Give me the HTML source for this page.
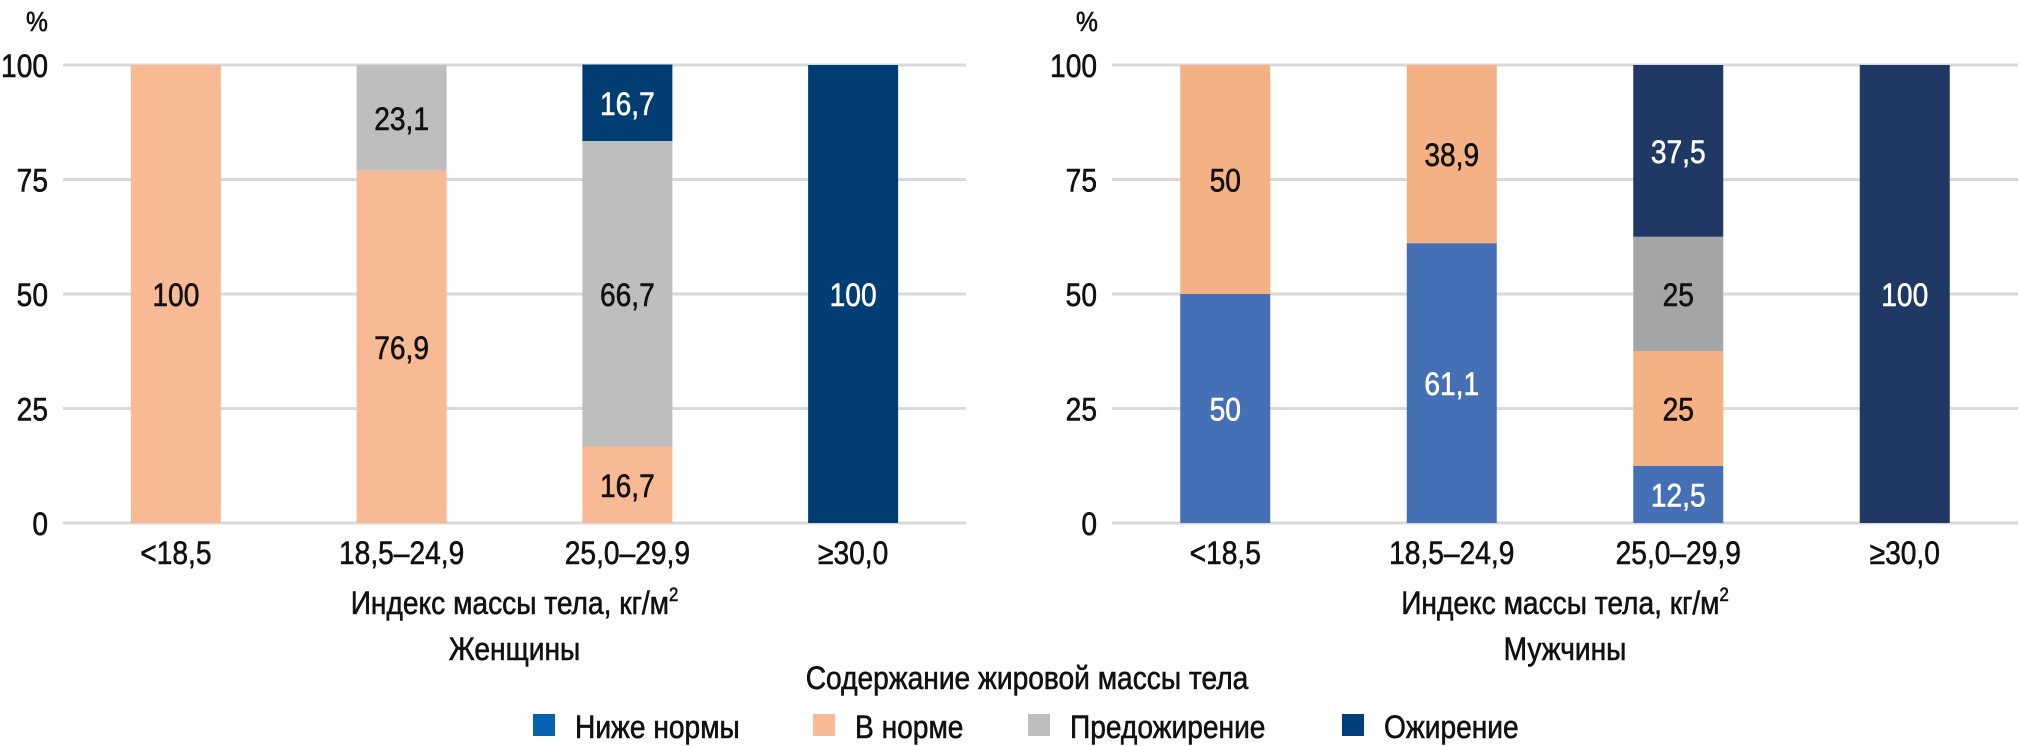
<!DOCTYPE html>
<html><head><meta charset="utf-8"><style>
html,body{margin:0;padding:0;background:#fff;}
svg{display:block;font-family:"Liberation Sans","DejaVu Sans",sans-serif;}
</style></head><body>
<svg id="c" width="2020" height="746" viewBox="0 0 2020 746" xmlns="http://www.w3.org/2000/svg"></svg>
<script>
const categories = ["<18,5","18,5–24,9","25,0–29,9","≥30,0"];
const yTicks = [0,25,50,75,100];
const womenBelow = [0,0,0,0];
const womenNormal = [100,76.9,16.7,0];
const womenPre = [0,23.1,66.7,0];
const womenObese = [0,0,16.7,100];
const menBelow = [50,61.1,12.5,0];
const menNormal = [50,38.9,25,0];
const menPre = [0,0,25,0];
const menObese = [0,0,37.5,100];
const legendNames = ["Ниже нормы","В норме","Предожирение","Ожирение"];

const NS="http://www.w3.org/2000/svg";
const svg=document.getElementById('c');
const SX=0.88;
function mk(tag,attrs,parent){const e=document.createElementNS(NS,tag);for(const k in attrs)e.setAttribute(k,attrs[k]);(parent||svg).appendChild(e);return e;}
function txt(x,y,size,anchor,fill,parent){
  return mk('text',{x:0,y:0,transform:'translate('+x+','+y+') scale('+SX+',1)','font-size':size,'text-anchor':anchor,fill:fill,stroke:fill,'stroke-width':0.6},parent);
}
function fmt(v){return String(v).replace('.',',');}
const y0=523,y1=65;
function yScale(v){return y0-(v/100)*(y0-y1);}

function drawPanel(p){
  const g=mk('g',{});
  
  
  const step=(p.x1-p.x0)/categories.length;
  function xc(i){return p.x0+step*(i+0.5);}
  yTicks.forEach(t=>{
    const l=mk('line',{x1:p.x0,x2:p.x1,y1:yScale(t),y2:yScale(t),stroke:'#d9d9d9','stroke-width':3},g);
    
    
    const tx=txt(p.labelX,yScale(t)+12,32,'end','#111',g);
    tx.textContent=t;
    
    
  });
  const pc=txt(p.pctX,31,28,'start','#111',g);
  pc.textContent='%';
  
  
  const bw=90;
  categories.forEach((c,i)=>{
    let base=0;
    p.series.forEach((s,si)=>{
      const v=s.vals[i];
      if(v<=0)return;
      const top=base+v;
      const r=mk('rect',{x:xc(i)-bw/2,y:yScale(top),width:bw,height:yScale(base)-yScale(top),fill:s.color},g);
      
      
      const t=txt(xc(i),(yScale(top)+yScale(base))/2+12,32,'middle',s.text,g);
      t.textContent=fmt(v);
      
      
      base=top;
    });
    const xl=txt(xc(i),564,32,'middle','#111',g);
    xl.textContent=c;
    
    
  });
  const cx=(p.x0+p.x1)/2;
  const at=txt(cx,614,32,'middle','#111',g);
  at.innerHTML='Индекс массы тела, кг/м<tspan dy="-13" font-size="19">2</tspan>';
  
  
  const st=txt(cx,660,32,'middle','#111',g);
  st.textContent=p.title;
  
  
}
drawPanel({name:'women-panel',x0:63,x1:966,labelX:48,pctX:26,title:'Женщины',series:[
  {vals:womenBelow,color:'#0563af',text:'#fff'},
  {vals:womenNormal,color:'#f8b995',text:'#111'},
  {vals:womenPre,color:'#bebebe',text:'#111'},
  {vals:womenObese,color:'#003d73',text:'#fff'}]});
drawPanel({name:'men-panel',x0:1112,x1:2018,labelX:1097,pctX:1076,title:'Мужчины',series:[
  {vals:menBelow,color:'#4570b5',text:'#fff'},
  {vals:menNormal,color:'#f4b183',text:'#111'},
  {vals:menPre,color:'#a5a5a5',text:'#111'},
  {vals:menObese,color:'#203864',text:'#fff'}]});

const lg=mk('g',{});


const lt=txt(1027,689,32,'middle','#111',lg);
lt.textContent='Содержание жировой массы тела';


const lcolors=['#0563af','#f8b995','#bebebe','#003f7b'];
const lmx=[533,813,1028,1342];
legendNames.forEach((n,i)=>{
  const r=mk('rect',{x:lmx[i],y:714,width:22,height:22,fill:lcolors[i]},lg);
  
  
  const t=txt(lmx[i]+42,738,32,'start','#111',lg);
  t.textContent=n;
  
  
});
</script>
</body></html>
